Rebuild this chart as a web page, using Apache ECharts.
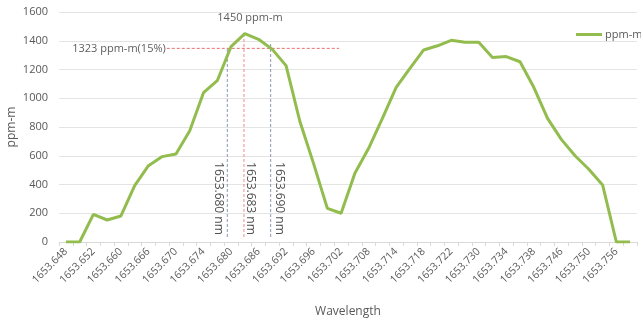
<!DOCTYPE html>
<html>
<head>
<meta charset="utf-8">
<script src="https://cdn.jsdelivr.net/npm/echarts@6/dist/echarts.min.js"></script>
<style>html,body{margin:0;padding:0;background:#fff}#c{width:641px;height:322px}</style>
</head>
<body>
<div id="c"></div>
<script>
// Wavelength categories (nm)
const wavelengths = [
  '1653.648','1653.650','1653.652','1653.656','1653.660','1653.663','1653.666','1653.668',
  '1653.670','1653.672','1653.674','1653.677','1653.680','1653.683','1653.686','1653.690',
  '1653.692','1653.694','1653.696','1653.699','1653.702','1653.705','1653.708','1653.711',
  '1653.714','1653.716','1653.718','1653.720','1653.722','1653.726','1653.730','1653.732',
  '1653.734','1653.736','1653.738','1653.742','1653.746','1653.748','1653.750','1653.753',
  '1653.756','1653.758'
];
// ppm-m values
const ppm = [
  0, 0, 192, 153, 181, 392, 531, 594,
  612, 774, 1039, 1122, 1359, 1450, 1410, 1340,
  1227, 840, 545, 234, 200, 478, 652, 860,
  1075, 1208, 1336, 1365, 1403, 1389, 1389, 1284,
  1290, 1254, 1076, 860, 714, 600, 506, 397,
  0, 0
];
const yTicks = {min: 0, max: 1600, interval: 200};

// annotations (in fractional category index units, and ppm-m)
const peakLabel = '1450 ppm-m';
const thresholdLabel = '1323 ppm-m(15%)';
const lineLabels = ['1653.680 nm', '1653.683 nm', '1653.690 nm'];

const n = wavelengths.length;
const font = '"Open Sans", "Noto Sans", sans-serif';
const grey = '#595959';

const vLine = (x, top, color) => ({
  type: 'line', xAxisIndex: 1, silent: true, symbol: 'none',
  data: [[x, 35], [x, top]],
  lineStyle: {color: color, width: 1, type: [3, 2]}, z: 1
});

const chart = echarts.init(document.getElementById('c'), null, {renderer: 'canvas'});
chart.setOption({
  animation: false,
  textStyle: {fontFamily: font},
  grid: {left: 59, right: 4, top: 12, bottom: 80, containLabel: false, outerBoundsMode: 'none'},
  legend: {
    data: ['ppm-m'], left: 576, top: 29, padding: 0, icon: 'rect', itemWidth: 26, itemHeight: 3, itemGap: 4,
    textStyle: {color: grey, fontSize: 11, fontFamily: font, padding: [0, 0, 0, -2]}
  },
  xAxis: [{
    type: 'category', data: wavelengths, boundaryGap: true,
    name: 'Wavelength', nameLocation: 'middle', nameGap: 64, nameMoveOverlap: false,
    nameTextStyle: {color: grey, fontSize: 12, fontFamily: font},
    axisLine: {lineStyle: {color: '#d9d9d9'}},
    axisTick: {show: true, interval: 0, length: 4, lineStyle: {color: '#d9d9d9'}},
    axisLabel: {interval: 1, rotate: 45, color: grey, fontSize: 10.5, margin: 8, fontFamily: font}
  }, {
    type: 'value', min: -0.5, max: n - 0.5, show: false
  }],
  yAxis: {
    type: 'value', min: yTicks.min, max: yTicks.max, interval: yTicks.interval,
    name: 'ppm-m', nameLocation: 'middle', nameGap: 41, nameMoveOverlap: false,
    nameTextStyle: {color: grey, fontSize: 12, fontFamily: font},
    axisLine: {show: false}, axisTick: {show: false},
    axisLabel: {color: grey, fontSize: 11, margin: 11, fontFamily: font, formatter: v => String(v)},
    splitLine: {lineStyle: {color: '#e4e4e4'}}
  },
  series: [
    {
      name: 'ppm-m', type: 'line', data: ppm, symbol: 'none', z: 3,
      lineStyle: {color: '#92bd4e', width: 3}, itemStyle: {color: '#92bd4e'}
    },
    {
      type: 'line', xAxisIndex: 1, silent: true, symbol: 'none', z: 1,
      data: [[7.33, 1347], [19.85, 1347]],
      lineStyle: {color: '#e8706c', width: 1, type: [3, 2]}
    },
    vLine(11.73, 1347, '#8a97b0'),
    vLine(12.94, 1450, '#f08c86'),
    vLine(14.88, 1382, '#8a97b0'),
    {
      type: 'scatter', xAxisIndex: 1, silent: true, symbolSize: 0, z: 4,
      data: [
        {value: [13.38, 1556], label: {formatter: peakLabel, position: 'inside', align: 'center', verticalAlign: 'middle'}},
        {value: [7.33, 1347], label: {formatter: thresholdLabel, position: 'left', distance: 1, align: 'right', verticalAlign: 'middle'}},
        {value: [11.08, 50], label: {formatter: lineLabels[0], position: 'inside', rotate: -90, align: 'right', verticalAlign: 'middle', fontSize: 12, color: '#222'}},
        {value: [13.43, 50], label: {formatter: lineLabels[1], position: 'inside', rotate: -90, align: 'right', verticalAlign: 'middle', fontSize: 12, color: '#222'}},
        {value: [15.51, 50], label: {formatter: lineLabels[2], position: 'inside', rotate: -90, align: 'right', verticalAlign: 'middle', fontSize: 12, color: '#222'}}
      ],
      label: {show: true, color: '#333', fontSize: 11, fontFamily: font}
    }
  ]
});
</script>
</body>
</html>
